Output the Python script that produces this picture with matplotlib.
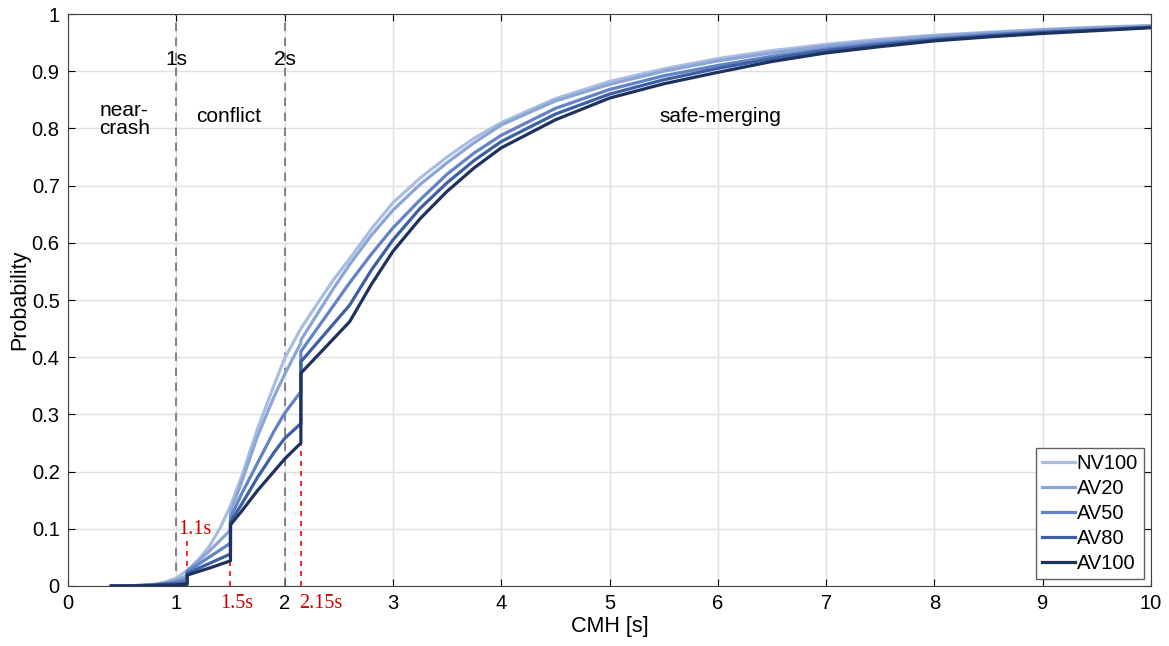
import matplotlib.pyplot as plt

plt.rcParams['font.family'] = ['Liberation Sans', 'DejaVu Sans']

# CDF points (repeated x = vertical jump)
x_nv100 = [0.4, 0.6, 0.8, 0.9, 1.0, 1.1, 1.2, 1.3, 1.4, 1.5, 1.6, 1.75, 1.9, 2.0, 2.15,
           2.3, 2.45, 2.6, 2.8, 3.0, 3.25, 3.5, 3.75, 4.0, 4.5, 5.0, 5.5, 6.0, 6.5, 7.0,
           7.5, 8.0, 8.5, 9.0, 9.5, 10.0]
y_nv100 = [0.0, 0.0005, 0.003, 0.007, 0.014, 0.027, 0.045, 0.068, 0.1, 0.14, 0.19, 0.275,
           0.35, 0.398, 0.45, 0.493, 0.535, 0.572, 0.624, 0.67, 0.713, 0.75, 0.783, 0.81,
           0.852, 0.882, 0.904, 0.922, 0.936, 0.947, 0.956, 0.963, 0.968, 0.973, 0.977, 0.98]

x_av = [0.4, 0.6, 0.8, 0.9, 1.0, 1.1, 1.1, 1.3, 1.5, 1.5, 1.6, 1.75, 1.9, 2.0, 2.15, 2.15,
        2.3, 2.45, 2.6, 2.8, 3.0, 3.25, 3.5, 3.75, 4.0, 4.5, 5.0, 5.5, 6.0, 6.5, 7.0, 7.5,
        8.0, 8.5, 9.0, 9.5, 10.0]
y_av20 = [0.0, 0.0004, 0.0025, 0.006, 0.01, 0.018, 0.027, 0.06, 0.098, 0.13, 0.18, 0.262,
          0.33, 0.37, 0.425, 0.43, 0.475, 0.52, 0.562, 0.613, 0.657, 0.702, 0.74, 0.775,
          0.806, 0.848, 0.877, 0.9, 0.918, 0.932, 0.944, 0.953, 0.961, 0.967, 0.972, 0.976,
          0.979]
y_av50 = [0.0, 0.0003, 0.002, 0.004, 0.007, 0.012, 0.025, 0.05, 0.075, 0.119, 0.16, 0.215,
          0.27, 0.302, 0.34, 0.41, 0.45, 0.49, 0.53, 0.58, 0.626, 0.675, 0.72, 0.757, 0.788,
          0.835, 0.868, 0.892, 0.91, 0.926, 0.939, 0.949, 0.957, 0.964, 0.969, 0.973, 0.977]
y_av80 = [0.0, 0.0002, 0.0015, 0.003, 0.004, 0.006, 0.022, 0.039, 0.056, 0.112, 0.142, 0.19,
          0.233, 0.258, 0.284, 0.392, 0.425, 0.458, 0.491, 0.552, 0.605, 0.66, 0.705, 0.744,
          0.777, 0.825, 0.86, 0.885, 0.905, 0.922, 0.936, 0.946, 0.955, 0.962, 0.968, 0.972,
          0.977]
y_av100 = [0.0, 0.0001, 0.001, 0.0015, 0.002, 0.003, 0.019, 0.031, 0.044, 0.107, 0.13, 0.167,
           0.2, 0.222, 0.25, 0.372, 0.402, 0.432, 0.462, 0.527, 0.585, 0.642, 0.69, 0.731,
           0.766, 0.815, 0.853, 0.878, 0.898, 0.917, 0.932, 0.943, 0.953, 0.96, 0.966, 0.971,
           0.976]

labels = ['NV100', 'AV20', 'AV50', 'AV80', 'AV100']
colors = ['#a9bde3', '#8aa5d6', '#6283c4', '#3d5fa3', '#1e325f']

fig = plt.figure(figsize=(11.69, 6.46), dpi=100)
ax = fig.add_axes([0.0582, 0.0929, 0.9264, 0.8854])

ax.plot(x_nv100, y_nv100, color=colors[0], lw=2.3, label=labels[0])
for ys, lab, c in zip([y_av20, y_av50, y_av80, y_av100], labels[1:], colors[1:]):
    ax.plot(x_av, ys, color=c, lw=2.3, label=lab)

# region borders
for xv in [1, 2]:
    ax.plot([xv, xv], [0, 1], ls=(0, (5, 4)), color='#707070', lw=1.2, zorder=1)
    ax.text(xv, 0.92, '%ds' % xv, ha='center', va='center', fontsize=15)

ax.text(0.52, 0.815, 'near-\ncrash', ha='center', va='center', fontsize=15, linespacing=0.95)
ax.text(1.48, 0.82, 'conflict', ha='center', va='center', fontsize=15)
ax.text(6.02, 0.82, 'safe-merging', ha='center', va='center', fontsize=15)

# red markers for the jumps
red_x = [1.1, 1.5, 2.15]
red_top = [0.08, 0.044, 0.25]
for xv, yt in zip(red_x, red_top):
    ax.plot([xv, xv], [0, yt], ls=(0, (3, 3)), color='red', lw=1.2, zorder=1)
serif = ['Liberation Serif', 'DejaVu Serif']
ax.text(1.02, 0.098, '1.1s', color='#d00000', fontsize=14.5, family=serif, va='center')
ax.text(1.56, -0.03, '1.5s', color='#d00000', fontsize=14.5, family=serif, ha='center', va='center')
ax.text(2.33, -0.03, '2.15s', color='#d00000', fontsize=14.5, family=serif, ha='center', va='center')

ax.set_xlim(0, 10)
ax.set_ylim(0, 1)
ax.set_xticks(range(0, 11))
ax.set_yticks([i / 10 for i in range(11)])
ax.set_yticklabels(['0', '0.1', '0.2', '0.3', '0.4', '0.5', '0.6', '0.7', '0.8', '0.9', '1'])
ax.tick_params(direction='in', labelsize=14.5, length=5, pad=6, top=True, right=True)
ax.grid(True, color='#e0e0e0', lw=1)
ax.set_axisbelow(True)
for s in ax.spines.values():
    s.set_color('#404040')
ax.set_xlabel('CMH [s]', fontsize=15.5, labelpad=2)
ax.set_ylabel('Probability', fontsize=15.5, labelpad=1)

leg = ax.legend(loc='lower right', fontsize=14.5, fancybox=False, framealpha=1,
                edgecolor='#606060', handlelength=1.6, handletextpad=0.1,
                labelspacing=0.3, borderpad=0.3, borderaxespad=0.35)
leg.get_frame().set_linewidth(1)

fig.savefig('out.png', dpi=100)
